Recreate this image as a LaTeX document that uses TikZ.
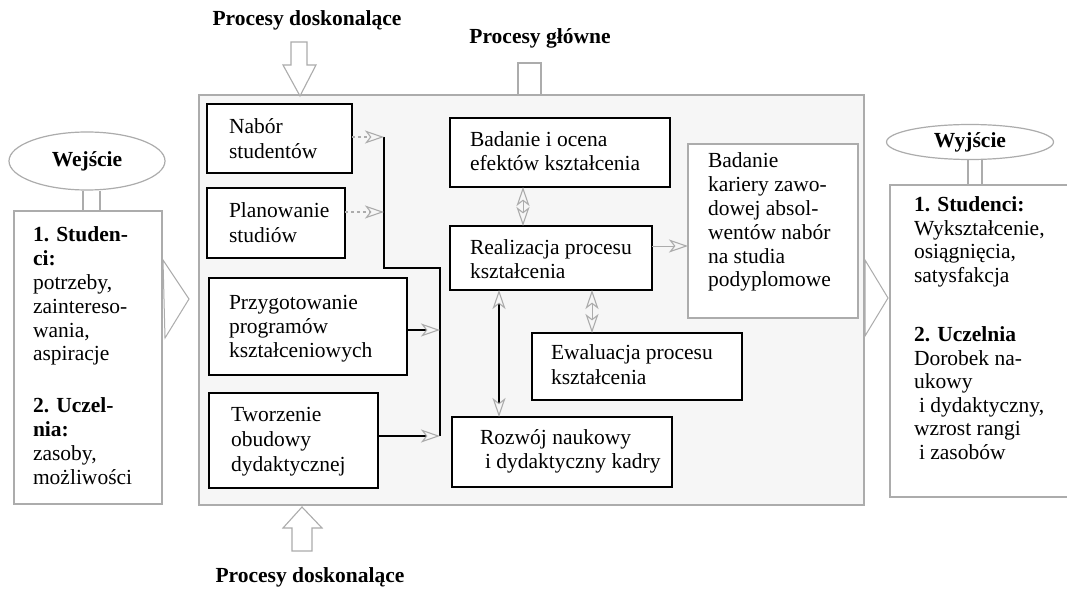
\documentclass[tikz,border=0pt]{standalone}
\usepackage{fontspec}
\setmainfont{Liberation Serif}
\usetikzlibrary{shapes.geometric,arrows.meta}
\tikzset{
  gt/.tip={Stealth[open,length=19pt,width=13pt,inset=5pt,line width=1.1pt,color=gray!65]},
  box/.style={draw=black,line width=1.4pt,fill=white,inner sep=0pt,outer sep=0pt,anchor=north west},
  gbox/.style={draw=gray!65,line width=1.4pt,fill=white,inner sep=0pt,outer sep=0pt,anchor=north west},
  txt/.style={inner sep=0pt,outer sep=0pt,anchor=north west,align=left,font=\fontsize{21.5}{25}\selectfont},
  stxt/.style={inner sep=0pt,outer sep=0pt,anchor=north west,align=left,font=\fontsize{21.5}{23.8}\selectfont},
  ttl/.style={inner sep=0pt,font=\fontsize{21.5}{25}\selectfont\bfseries},
  oval/.style={ellipse,draw=gray!65,line width=1.2pt,fill=white,inner sep=0pt,font=\fontsize{21.5}{25}\selectfont\bfseries},
  blockarrow/.style={draw=gray!65,line width=1.1pt,fill=white},
  gline/.style={draw=gray!65,line width=1.2pt},
  kline/.style={draw=black,line width=1.5pt}
}
\begin{document}
\begin{tikzpicture}[x=1pt,y=-1pt]
\useasboundingbox (0,0) rectangle (1067,604);
\fill[white] (0,0) rectangle (1067,604);

% outer frame
\node[gbox,fill=gray!7,minimum width=665pt,minimum height=410pt] (outer) at (199,95) {};

% titles and block arrows
\node[ttl] (pd1) at (307,20) {Procesy doskonalące};
\node[ttl] (pg) at (540,38) {Procesy główne};
\node[ttl] (pd2) at (310,577) {Procesy doskonalące};
\draw[blockarrow] (291,42) -- (307,42) -- (307,65) -- (316,65) -- (300,96) -- (283,65) -- (291,65) -- cycle;
\draw[blockarrow] (292,551) -- (312,551) -- (312,528) -- (322,528) -- (302,507) -- (283,528) -- (292,528) -- cycle;
\draw[gline] (518,95) -- (518,63) -- (541,63) -- (541,95);

% input side
\node[gbox,minimum width=148pt,minimum height=293pt] (in) at (14,211) {};
\node[oval,minimum width=156pt,minimum height=58pt] (wej) at (87,161) {Wejście};
\draw[gline] ([xshift=-4pt]wej.south) -- ([xshift=-4pt]wej.south |- in.north)
             ([xshift=13pt]wej.south) -- ([xshift=13pt]wej.south |- in.north);
\node[stxt] (intxt) at (33,227) {\textbf{1. Studen-}\\\textbf{ci:}\\potrzeby,\\zaintereso-\\wania,\\aspiracje\\[28pt]\textbf{2. Uczel-}\\\textbf{nia:}\\zasoby,\\możliwości};
\draw[gline,line width=1pt] (163,260) -- (189,299) -- (165,338) -- cycle;

% output side
\node[gbox,minimum width=182pt,minimum height=312pt] (out) at (890,185) {};
\node[oval,minimum width=167pt,minimum height=35pt] (wyj) at (970,142) {Wyjście};
\draw[gline] ([xshift=-2pt]wyj.south) -- ([xshift=-2pt]wyj.south |- out.north)
             ([xshift=12pt]wyj.south) -- ([xshift=12pt]wyj.south |- out.north);
\node[stxt,font=\fontsize{21.5}{23.5}\selectfont] (outtxt) at (914,197) {\textbf{1. Studenci:}\\Wykształcenie,\\osiągnięcia,\\satysfakcja\\[36pt]\textbf{2. Uczelnia}\\Dorobek na-\\ukowy\\\hspace{5pt}i dydaktyczny,\\wzrost rangi\\\hspace{5pt}i zasobów};
\draw[gline,line width=1pt] (865,260) -- (888,298) -- (865,336) -- cycle;

% left column boxes
\node[box,minimum width=145pt,minimum height=69pt] (nabor) at (207,104) {};
\node[txt] (nabort) at (229,119) {Nabór\\studentów};
\node[box,minimum width=138pt,minimum height=70pt] (plan) at (207,188) {};
\node[txt] (plant) at (229,203) {Planowanie\\studiów};
\node[box,minimum width=198pt,minimum height=97pt] (przyg) at (209,278) {};
\node[txt,font=\fontsize{21.5}{24}\selectfont] (przygt) at (229,295) {Przygotowanie\\programów\\kształceniowych};
\node[box,minimum width=169pt,minimum height=95pt] (tworz) at (209,393) {};
\node[txt] (tworzt) at (231,407) {Tworzenie\\obudowy\\dydaktycznej};

% main process boxes
\node[box,minimum width=220pt,minimum height=69pt] (bad) at (450,118) {};
\node[txt,font=\fontsize{21.5}{23.5}\selectfont] (badt) at (470,132) {Badanie i ocena\\efektów kształcenia};
\node[box,minimum width=202pt,minimum height=64pt] (real) at (450,226) {};
\node[txt,font=\fontsize{21.5}{24}\selectfont] (realt) at (470,240) {Realizacja procesu\\kształcenia};
\node[gbox,minimum width=170pt,minimum height=174pt] (kar) at (688,144) {};
\node[txt,font=\fontsize{21.5}{23.8}\selectfont] (kart) at (708,153) {Badanie\\kariery zawo-\\dowej absol-\\wentów nabór\\na studia\\podyplomowe};
\node[box,minimum width=210pt,minimum height=67pt] (ewal) at (532,333) {};
\node[txt] (ewalt) at (551,345) {Ewaluacja procesu\\kształcenia};
\node[box,minimum width=220pt,minimum height=70pt] (rozw) at (452,417) {};
\node[txt,font=\fontsize{21.5}{23.5}\selectfont] (rozwt) at (480,430) {Rozwój naukowy\\\hspace{5pt}i dydaktyczny kadry};

% connector helper coordinates
\coordinate (b1) at (384,137);
\coordinate (b2) at (384,212);
\coordinate (b3) at (384,268);
\coordinate (b4) at (440,268);
\coordinate (c1) at (440,330);
\coordinate (b5) at (440,436);
\coordinate (d1) at (523,0);
\coordinate (e1) at (592,0);
\coordinate (f1) at (499,0);
\coordinate (g1) at (0,246);

% left bracket
\draw[kline] (b1) -- (b3) -- (b4) -- (b5);
\draw[gline,dashed,-gt] (nabor.east |- b1) -- (b1);
\draw[gline,dashed,-gt] (plan.east |- b2) -- (b2);
\draw[kline,line width=1.3pt,-gt] (przyg.east |- c1) -- (c1);
\draw[kline,line width=1.3pt,-gt] (tworz.east |- b5) -- (b5);

% main connectors
\draw[gline,line width=1pt,gt-gt] (bad.south -| d1) -- (real.north -| d1);
\draw[gline,line width=1pt,-gt] (real.east |- g1) -- (kar.west |- g1);
\draw[gline,line width=1pt,gt-gt] (real.south -| e1) -- (ewal.north -| e1);
\draw[kline,line width=1.3pt,gt-gt] (real.south -| f1) -- (rozw.north -| f1);
\end{tikzpicture}
\end{document}
